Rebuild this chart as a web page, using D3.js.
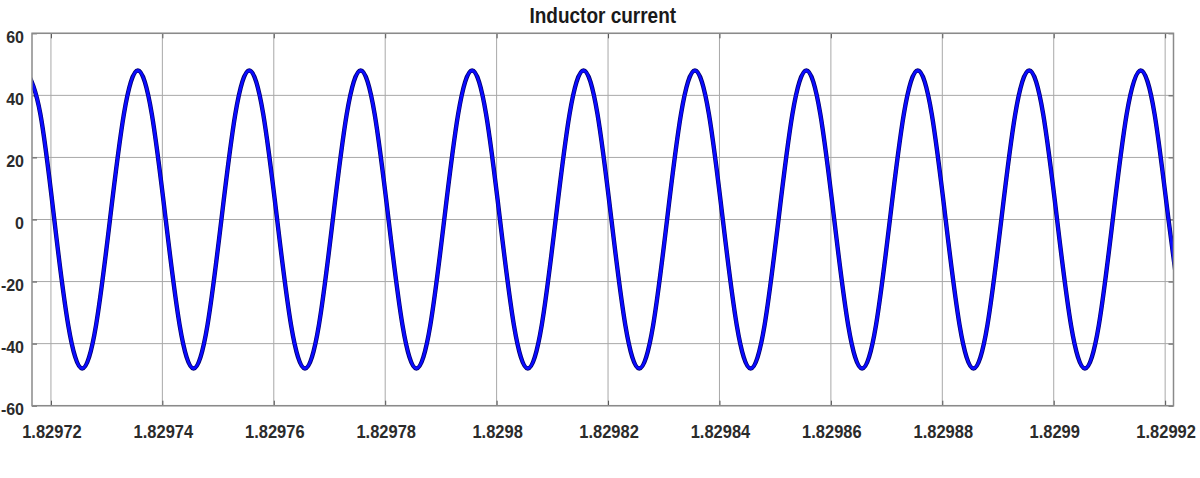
<!DOCTYPE html>
<html>
<head>
<meta charset="utf-8">
<script src="https://cdn.jsdelivr.net/npm/d3@7"></script>
<style>
  html, body { margin: 0; padding: 0; background: #fff; }
  svg { display: block; }
  text { font-family: "Liberation Sans", Arial, sans-serif; }
</style>
</head>
<body>
<svg id="chart" width="1200" height="478"></svg>
<script>
// ---- data ----
const title = "Inductor current";
const xDomain = [1.8297166, 1.8299215];
const yDomain = [-60, 60];
const xTicks = [1.82972, 1.82974, 1.82976, 1.82978, 1.82980, 1.82982, 1.82984, 1.82986, 1.82988, 1.82990, 1.82992];
const xTickLabels = ["1.82972", "1.82974", "1.82976", "1.82978", "1.8298", "1.82982", "1.82984", "1.82986", "1.82988", "1.8299", "1.82992"];
const yTicks = [-60, -40, -20, 0, 20, 40, 60];
const yTickLabels = ["-60", "-40", "-20", "0", "20", "40", "60"];
const time = [
  1.8297156, 1.8297181, 1.8297206, 1.8297231, 1.8297256, 1.8297281, 1.8297306, 1.8297331,
  1.8297356, 1.8297381, 1.8297406, 1.8297431, 1.8297456, 1.8297481, 1.8297506, 1.8297531,
  1.8297556, 1.8297581, 1.8297606, 1.8297631, 1.8297656, 1.8297681, 1.8297706, 1.8297731,
  1.8297756, 1.8297781, 1.8297806, 1.8297831, 1.8297856, 1.8297881, 1.8297906, 1.8297931,
  1.8297956, 1.8297981, 1.8298006, 1.8298031, 1.8298056, 1.8298081, 1.8298106, 1.8298131,
  1.8298156, 1.8298181, 1.8298206, 1.8298231, 1.8298256, 1.8298281, 1.8298306, 1.8298331,
  1.8298356, 1.8298381, 1.8298406, 1.8298431, 1.8298456, 1.8298481, 1.8298506, 1.8298531,
  1.8298556, 1.8298581, 1.8298606, 1.8298631, 1.8298656, 1.8298681, 1.8298706, 1.8298731,
  1.8298756, 1.8298781, 1.8298806, 1.8298831, 1.8298856, 1.8298881, 1.8298906, 1.8298931,
  1.8298956, 1.8298981, 1.8299006, 1.8299031, 1.8299056, 1.8299081, 1.8299106, 1.8299131,
  1.8299156, 1.8299181, 1.8299206, 1.8299231
];
const current = [
  48, 34, 0, -34, -48, -34, 0, 34,
  48, 34, 0, -34, -48, -34, 0, 34,
  48, 34, 0, -34, -48, -34, 0, 34,
  48, 34, 0, -34, -48, -34, 0, 34,
  48, 34, 0, -34, -48, -34, 0, 34,
  48, 34, 0, -34, -48, -34, 0, 34,
  48, 34, 0, -34, -48, -34, 0, 34,
  48, 34, 0, -34, -48, -34, 0, 34,
  48, 34, 0, -34, -48, -34, 0, 34,
  48, 34, 0, -34, -48, -34, 0, 34,
  48, 34, 0, -34
];

// ---- layout ----
const plot = { left: 32, right: 1173.5, top: 33.3, bottom: 405.7 };
const svg = d3.select("#chart");

const x = d3.scaleLinear().domain(xDomain).range([plot.left, plot.right]);
const y = d3.scaleLinear().domain(yDomain).range([plot.bottom, plot.top]);

svg.append("rect").attr("width", 1200).attr("height", 478).attr("fill", "#fff");

// grid
const grid = svg.append("g");
grid.selectAll("line.vx").data(xTicks).join("line")
  .attr("x1", d => x(d)).attr("x2", d => x(d))
  .attr("y1", plot.top).attr("y2", plot.bottom)
  .attr("stroke", "#a8a8a8").attr("stroke-width", 1);
grid.selectAll("line.hy").data(yTicks).join("line")
  .attr("x1", plot.left).attr("x2", plot.right)
  .attr("y1", d => y(d)).attr("y2", d => y(d))
  .attr("stroke", "#a8a8a8").attr("stroke-width", 1);

// inward tick marks via axes
const axL = d3.axisLeft(y).tickValues(yTicks).tickSize(-5).tickFormat("");
const axR = d3.axisRight(y).tickValues(yTicks).tickSize(-5).tickFormat("");
const axB = d3.axisBottom(x).tickValues(xTicks).tickSize(-5).tickFormat("");
const axT = d3.axisTop(x).tickValues(xTicks).tickSize(-5).tickFormat("");
[[axL, `translate(${plot.left},0)`], [axR, `translate(${plot.right},0)`],
 [axB, `translate(0,${plot.bottom})`], [axT, `translate(0,${plot.top})`]].forEach(([ax, tr]) => {
  const g = svg.append("g").attr("transform", tr).call(ax);
  g.select(".domain").remove();
  g.selectAll(".tick line").attr("stroke", "#555").attr("stroke-width", 1);
});

// curve
svg.append("clipPath").attr("id", "clip").append("rect")
  .attr("x", plot.left).attr("y", plot.top)
  .attr("width", plot.right - plot.left).attr("height", plot.bottom - plot.top);

const pts = time.map((t, i) => [t, current[i]]);
const line = d3.line().x(d => x(d[0])).y(d => y(d[1])).curve(d3.curveNatural);
const cg = svg.append("g").attr("clip-path", "url(#clip)");
cg.append("path").attr("d", line(pts)).attr("fill", "none")
  .attr("stroke", "#000070").attr("stroke-width", 4.4).attr("stroke-linejoin", "round");
cg.append("path").attr("d", line(pts)).attr("fill", "none")
  .attr("stroke", "#0a0aff").attr("stroke-width", 3).attr("stroke-linejoin", "round");

// border
svg.append("rect")
  .attr("x", plot.left).attr("y", plot.top)
  .attr("width", plot.right - plot.left).attr("height", plot.bottom - plot.top)
  .attr("fill", "none").attr("stroke", "#8a8a8a").attr("stroke-width", 1.5);

// y labels
svg.append("g").selectAll("text").data(yTicks).join("text")
  .attr("x", 24).attr("y", d => y(d) + 9.6)
  .attr("text-anchor", "end")
  .attr("font-size", 16).attr("font-weight", "bold").attr("fill", "#2b2b2b")
  .text((d, i) => yTickLabels[i]);

// x labels
svg.append("g").selectAll("text").data(xTicks).join("text")
  .attr("transform", d => `translate(${x(d) + 1},438.3) scale(1,1.12)`)
  .attr("text-anchor", "middle")
  .attr("font-size", 16.5).attr("font-weight", "bold").attr("fill", "#2b2b2b")
  .text((d, i) => xTickLabels[i]);

// title
svg.append("text")
  .attr("transform", `translate(${(plot.left + plot.right) / 2},23.3) scale(1,1.18)`)
  .attr("text-anchor", "middle")
  .attr("font-size", 19).attr("font-weight", "bold").attr("fill", "#1a1a1a")
  .text(title);
</script>
</body>
</html>
